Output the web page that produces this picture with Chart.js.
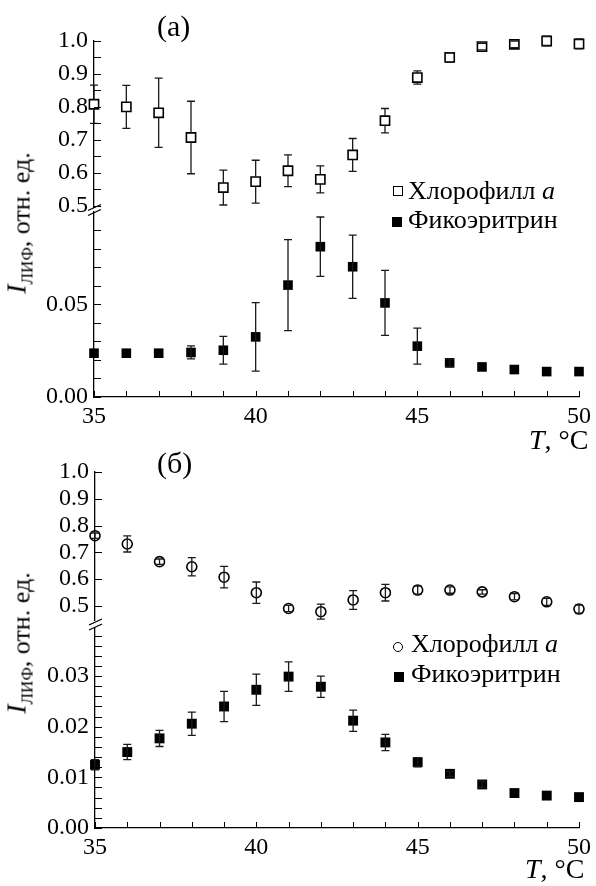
<!DOCTYPE html>
<html>
<head>
<meta charset="utf-8">
<script src="https://cdn.jsdelivr.net/npm/chart.js@4.4.1/dist/chart.umd.min.js"></script>
<style>
  body { margin: 0; background: #fff; width: 596px; height: 886px; position: relative; overflow: hidden;
         font-family: "Liberation Serif", "Times New Roman", serif; color: #000; }
  canvas { position: absolute; left: 0; }
  .txt { position: absolute; white-space: nowrap; font-size: 26px; line-height: 26px; }
  .panel { position: absolute; white-space: nowrap; font-size: 30px; line-height: 30px; }
  .xt { position: absolute; white-space: nowrap; font-size: 28px; line-height: 28px; }
  .yt { position: absolute; white-space: nowrap; font-size: 26px; line-height: 30px;
        transform: translate(-50%, -50%) rotate(-90deg); }
  .yt i { font-size: 28px; position: relative; top: -4px; }
  .yt sub { font-size: 17px; vertical-align: -3px; }
  .mk { position: absolute; box-sizing: border-box; }
</style>
</head>
<body>
<canvas id="chartA" width="596" height="443" style="top:0"></canvas>
<canvas id="chartB" width="596" height="443" style="top:443px"></canvas>

<div class="panel" style="left:157px;top:11px">(а)</div>
<div class="panel" style="left:157px;top:448px">(б)</div>

<div class="yt" style="left:24px;top:223px"><i>I</i><sub>ЛИФ</sub>, отн. ед.</div>
<div class="yt" style="left:24px;top:643px"><i>I</i><sub>ЛИФ</sub>, отн. ед.</div>

<div class="xt" style="left:529px;top:426px"><i>T</i>, °C</div>
<div class="xt" style="left:525px;top:855px"><i>T</i>, °C</div>

<!-- legends -->
<div class="mk" style="left:393px;top:186px;width:10px;height:10px;border:1.6px solid #000"></div>
<div class="txt" style="left:408px;top:178px">Хлорофилл <i>a</i></div>
<div class="mk" style="left:392px;top:217px;width:10px;height:10px;background:#000"></div>
<div class="txt" style="left:408px;top:207px">Фикоэритрин</div>

<div class="mk" style="left:393px;top:642px;width:10px;height:10px;border:1.5px solid #000;border-radius:50%"></div>
<div class="txt" style="left:411px;top:631px">Хлорофилл <i>a</i></div>
<div class="mk" style="left:394px;top:672px;width:10px;height:10px;background:#000"></div>
<div class="txt" style="left:411px;top:661px">Фикоэритрин</div>

<script>
var temps = [35, 36, 37, 38, 39, 40, 41, 42, 43, 44, 45, 46, 47, 48, 49, 50];

// panel (a)
var chlA = [0.808, 0.800, 0.782, 0.707, 0.555, 0.573, 0.606, 0.580, 0.654, 0.758, 0.889, 0.950, 0.983, 0.990, 1.000, 0.991];
var chlAErr = [0.058, 0.065, 0.105, 0.110, 0.053, 0.065, 0.048, 0.041, 0.050, 0.037, 0.020, 0.015, 0.010, 0.010, 0.015, 0.015];
var phycoA = [0.0236, 0.0236, 0.0236, 0.0240, 0.0252, 0.0324, 0.0603, 0.0810, 0.0702, 0.0507, 0.0274, 0.0184, 0.0162, 0.0148, 0.0137, 0.0137];
var phycoAErr = [0, 0, 0, 0.0035, 0.0075, 0.0185, 0.0245, 0.0160, 0.0170, 0.0175, 0.0097, 0.0022, 0, 0, 0, 0];

// panel (b)
var chlB = [0.762, 0.731, 0.665, 0.646, 0.607, 0.549, 0.490, 0.478, 0.522, 0.549, 0.559, 0.559, 0.552, 0.534, 0.515, 0.488];
var chlBErr = [0.010, 0.030, 0.010, 0.034, 0.040, 0.040, 0.012, 0.028, 0.035, 0.031, 0.015, 0.012, 0.008, 0.012, 0.013, 0.015];
var phycoB = [0.0125, 0.0150, 0.0177, 0.0206, 0.0240, 0.0273, 0.0299, 0.0279, 0.0212, 0.0169, 0.0130, 0.0107, 0.0086, 0.0069, 0.0064, 0.0061];
var phycoBErr = [0.0010, 0.0015, 0.0016, 0.0023, 0.0030, 0.0031, 0.0029, 0.0021, 0.0021, 0.0016, 0.0009, 0.0005, 0.0006, 0, 0, 0];

var xTickLabels = [35, 40, 45, 50];

var FONT = '"Liberation Serif", "Times New Roman", serif';

function toPoints(values) {
  return temps.map(function (t, i) {
    return { x: t, y: values[i] };
  });
}

// vertical error bars with caps, drawn through the scales
var errorBars = {
  id: "errorBars",
  afterDatasetsDraw: function (chart) {
    var ctx = chart.ctx;
    chart.data.datasets.forEach(function (ds, i) {
      if (!ds.errors) return;
      var meta = chart.getDatasetMeta(i);
      var yScale = chart.scales[ds.yAxisID];
      var gap = ds.barGap || 0;
      ctx.save();
      ctx.strokeStyle = "#1a1a1a";
      ctx.lineWidth = 1.3;
      meta.data.forEach(function (pt, j) {
        var e = ds.errors[j];
        if (!e) return;
        var v = ds.data[j].y;
        var yTop = yScale.getPixelForValue(v + e);
        var yBot = yScale.getPixelForValue(v - e);
        ctx.beginPath();
        if (yTop < pt.y - gap) {
          ctx.moveTo(pt.x, pt.y - gap);
          ctx.lineTo(pt.x, yTop);
        }
        if (yBot > pt.y + gap) {
          ctx.moveTo(pt.x, pt.y + gap);
          ctx.lineTo(pt.x, yBot);
        }
        ctx.moveTo(pt.x - 4, yTop);
        ctx.lineTo(pt.x + 4, yTop);
        ctx.moveTo(pt.x - 4, yBot);
        ctx.lineTo(pt.x + 4, yBot);
        ctx.stroke();
      });
      ctx.restore();
    });
  },
};

// tick marks pointing into the plot, plus "//" where the y axis is broken
var axisMarks = {
  id: "axisMarks",
  afterDraw: function (chart) {
    var ctx = chart.ctx;
    var area = chart.chartArea;
    ctx.save();
    ctx.strokeStyle = "#000";
    ctx.lineWidth = 1;
    ctx.beginPath();
    chart.scales.x.ticks.forEach(function (t) {
      var px = Math.round(chart.scales.x.getPixelForValue(t.value)) + 0.5;
      ctx.moveTo(px, area.bottom);
      ctx.lineTo(px, area.bottom - 6);
    });
    ["yUp", "yLow"].forEach(function (id) {
      var s = chart.scales[id];
      s.ticks.forEach(function (t) {
        var py = Math.round(s.getPixelForValue(t.value)) + 0.5;
        ctx.moveTo(area.left, py);
        ctx.lineTo(area.left + 7, py);
      });
    });
    ctx.stroke();

    var up = chart.scales.yUp;
    var low = chart.scales.yLow;
    var cx = area.left;
    var cy = (up.bottom + low.top) / 2;
    ctx.lineWidth = 1.3;
    ctx.beginPath();
    ctx.moveTo(cx - 6, cy + 1);
    ctx.lineTo(cx + 7, cy - 5);
    ctx.moveTo(cx - 6, cy + 6);
    ctx.lineTo(cx + 7, cy);
    ctx.stroke();
    ctx.restore();
  },
};

function tickFont() {
  return { family: FONT, size: 24 };
}

function makePanel(canvasId, p) {
  var ctx = document.getElementById(canvasId).getContext("2d");
  return new Chart(ctx, {
    type: "scatter",
    data: {
      datasets: [
        {
          label: "Хлорофилл a",
          data: toPoints(p.chl),
          errors: p.chlErr,
          barGap: p.chlGap,
          yAxisID: "yUp",
          pointStyle: p.chlStyle,
          pointRadius: p.chlRadius,
          borderWidth: 1.6,
          borderColor: "#000",
          backgroundColor: p.chlFill,
          clip: false,
        },
        {
          label: "Фикоэритрин",
          data: toPoints(p.phyco),
          errors: p.phycoErr,
          yAxisID: "yLow",
          pointStyle: "rect",
          pointRadius: p.phycoRadius,
          borderWidth: 0,
          borderColor: "#000",
          backgroundColor: "#000",
          clip: false,
        },
      ],
    },
    options: {
      responsive: false,
      animation: false,
      events: [],
      layout: { padding: p.padding },
      plugins: { legend: { display: false }, tooltip: { enabled: false } },
      scales: {
        x: {
          type: "linear",
          min: 35,
          max: 50,
          afterFit: function (s) { s.height = p.xHeight; },
          border: { color: "#000", width: 1.3 },
          grid: { drawOnChartArea: false, drawTicks: false },
          ticks: {
            stepSize: 1,
            autoSkip: false,
            maxRotation: 0,
            padding: 5,
            color: "#000",
            font: tickFont(),
            callback: function (v) {
              return xTickLabels.indexOf(v) >= 0 ? String(v) : "";
            },
          },
        },
        yUp: {
          type: "linear",
          position: "left",
          stack: "y",
          stackWeight: p.upWeight,
          weight: 3,
          min: p.upMin,
          max: 1.0,
          afterFit: function (s) { s.width = 60; },
          border: { color: "#000", width: 1.3 },
          grid: { drawOnChartArea: false, drawTicks: false },
          ticks: {
            stepSize: p.upStep,
            includeBounds: false,
            autoSkip: false,
            padding: 6,
            color: "#000",
            font: tickFont(),
            callback: function (v) {
              return Math.round(v * 100) % 10 === 0 ? v.toFixed(1) : "";
            },
          },
        },
        yGap: {
          type: "linear",
          position: "left",
          stack: "y",
          stackWeight: p.gapWeight,
          weight: 2,
          min: 0,
          max: 1,
          afterFit: function (s) { s.width = 60; },
          border: { display: false },
          grid: { display: false },
          ticks: { display: false },
        },
        yLow: {
          type: "linear",
          position: "left",
          stack: "y",
          stackWeight: p.lowWeight,
          weight: 1,
          min: 0,
          max: p.lowMax,
          afterFit: function (s) { s.width = 60; },
          border: { color: "#000", width: 1.3 },
          grid: { drawOnChartArea: false, drawTicks: false },
          ticks: {
            stepSize: p.lowStep,
            includeBounds: false,
            autoSkip: false,
            padding: 6,
            color: "#000",
            font: tickFont(),
            callback: function (v) {
              return Math.round(v * 1000) % p.lowLabelEvery === 0 ? v.toFixed(2) : "";
            },
          },
        },
      },
    },
    plugins: [errorBars, axisMarks],
  });
}

makePanel("chartA", {
  chl: chlA, chlErr: chlAErr, phyco: phycoA, phycoErr: phycoAErr,
  chlStyle: "rect", chlRadius: 6.5, chlFill: "#fff", chlGap: 4.6, phycoRadius: 6.8,
  padding: { left: 34, right: 16, top: 41, bottom: 0 },
  xHeight: 46,
  upMin: 0.496, upStep: 0.05, upWeight: 166,
  gapWeight: 5,
  lowMax: 0.0997, lowStep: 0.01, lowLabelEvery: 50, lowWeight: 185,
});

makePanel("chartB", {
  chl: chlB, chlErr: chlBErr, phyco: phycoB, phycoErr: phycoBErr,
  chlStyle: "circle", chlRadius: 5, chlFill: "rgba(0,0,0,0)", chlGap: 0, phycoRadius: 7,
  padding: { left: 35, right: 15, top: 29, bottom: 0 },
  xHeight: 58,
  upMin: 0.447, upStep: 0.1, upWeight: 148,
  gapWeight: 8,
  lowMax: 0.0395, lowStep: 0.002, lowLabelEvery: 10, lowWeight: 200,
});
</script>
</body>
</html>
